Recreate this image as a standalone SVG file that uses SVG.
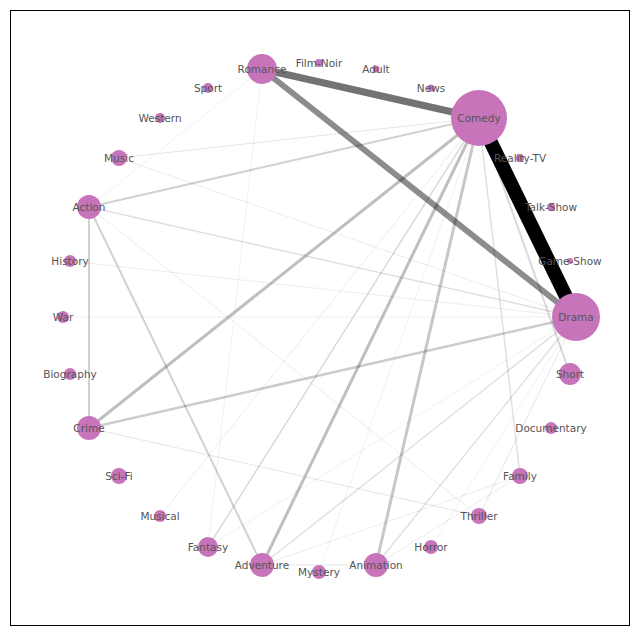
<svg xmlns="http://www.w3.org/2000/svg" width="640" height="636" viewBox="0 0 640 636">
<style>
.n{fill:#c774ba}
.t{font-family:"DejaVu Sans",sans-serif;font-size:10.5px;fill:#555;text-anchor:middle;dominant-baseline:central}
.e{stroke:#000;fill:none;stroke-linecap:butt}
</style>
<rect width="640" height="636" fill="#fff"/>
<rect x="10.5" y="10.5" width="619" height="615" fill="none" stroke="#000"/>
<g id="edges">
<line class="e" x1="479" y1="118" x2="576" y2="317" stroke-width="14"/>
<line class="e" x1="262" y1="69" x2="479" y2="118" stroke-width="7" stroke-opacity="0.55"/>
<line class="e" x1="262" y1="69" x2="576" y2="317" stroke-width="6" stroke-opacity="0.45"/>
<line class="e" x1="479" y1="118" x2="89" y2="428" stroke-width="3" stroke-opacity="0.25"/>
<line class="e" x1="479" y1="118" x2="262" y2="565" stroke-width="3" stroke-opacity="0.25"/>
<line class="e" x1="479" y1="118" x2="376" y2="565" stroke-width="3" stroke-opacity="0.22"/>
<line class="e" x1="576" y1="317" x2="89" y2="428" stroke-width="2.5" stroke-opacity="0.2"/>
<line class="e" x1="479" y1="118" x2="89" y2="207" stroke-width="2" stroke-opacity="0.18"/>
<line class="e" x1="89" y1="207" x2="89" y2="428" stroke-width="2" stroke-opacity="0.18"/>
<line class="e" x1="89" y1="207" x2="262" y2="565" stroke-width="2" stroke-opacity="0.18"/>
<line class="e" x1="479" y1="118" x2="570" y2="374" stroke-width="2" stroke-opacity="0.15"/>
<line class="e" x1="479" y1="118" x2="520" y2="476" stroke-width="1.5" stroke-opacity="0.12"/>
<line class="e" x1="479" y1="118" x2="208" y2="547" stroke-width="1.5" stroke-opacity="0.15"/>
<line class="e" x1="576" y1="317" x2="262" y2="565" stroke-width="1.5" stroke-opacity="0.12"/>
<line class="e" x1="576" y1="317" x2="376" y2="565" stroke-width="1.5" stroke-opacity="0.12"/>
<line class="e" x1="576" y1="317" x2="89" y2="207" stroke-width="1.5" stroke-opacity="0.12"/>
<line class="e" x1="576" y1="317" x2="479" y2="516" stroke-width="1" stroke-opacity="0.1"/>
<line class="e" x1="479" y1="118" x2="119" y2="158" stroke-width="1" stroke-opacity="0.1"/>
<line class="e" x1="479" y1="118" x2="160" y2="516" stroke-width="1" stroke-opacity="0.08"/>
<line class="e" x1="576" y1="317" x2="70" y2="261" stroke-width="1" stroke-opacity="0.08"/>
<line class="e" x1="576" y1="317" x2="63" y2="317" stroke-width="1" stroke-opacity="0.06"/>
<line class="e" x1="576" y1="317" x2="119" y2="158" stroke-width="1" stroke-opacity="0.08"/>
<line class="e" x1="89" y1="428" x2="479" y2="516" stroke-width="1" stroke-opacity="0.1"/>
<line class="e" x1="89" y1="207" x2="479" y2="516" stroke-width="1" stroke-opacity="0.08"/>
<line class="e" x1="262" y1="565" x2="376" y2="565" stroke-width="1" stroke-opacity="0.1"/>
<line class="e" x1="262" y1="565" x2="520" y2="476" stroke-width="1" stroke-opacity="0.08"/>
<line class="e" x1="376" y1="565" x2="520" y2="476" stroke-width="1" stroke-opacity="0.08"/>
<line class="e" x1="262" y1="69" x2="208" y2="547" stroke-width="1" stroke-opacity="0.06"/>
<line class="e" x1="262" y1="69" x2="89" y2="207" stroke-width="1" stroke-opacity="0.06"/>
<line class="e" x1="576" y1="317" x2="208" y2="547" stroke-width="1" stroke-opacity="0.06"/>
<line class="e" x1="576" y1="317" x2="431" y2="547" stroke-width="1" stroke-opacity="0.06"/>
<line class="e" x1="479" y1="118" x2="319" y2="572" stroke-width="1" stroke-opacity="0.06"/>
</g>
<g id="n-Comedy"><circle class="n" cx="479" cy="118" r="28"/><text class="t" x="479" y="118">Comedy</text></g>
<g id="n-Drama"><circle class="n" cx="576" cy="317" r="24"/><text class="t" x="576" y="317">Drama</text></g>
<g id="n-Romance"><circle class="n" cx="262" cy="69" r="15"/><text class="t" x="262" y="69">Romance</text></g>
<g id="n-FilmNoir"><circle class="n" cx="319" cy="63" r="4"/><text class="t" x="319" y="63">Film-Noir</text></g>
<g id="n-Adult"><circle class="n" cx="376" cy="69" r="3.5"/><text class="t" x="376" y="69">Adult</text></g>
<g id="n-News"><circle class="n" cx="431" cy="88" r="3.5"/><text class="t" x="431" y="88">News</text></g>
<g id="n-RealityTV"><circle class="n" cx="520" cy="158" r="4"/><text class="t" x="520" y="158">Reality-TV</text></g>
<g id="n-TalkShow"><circle class="n" cx="551" cy="207" r="4"/><text class="t" x="551" y="207">Talk-Show</text></g>
<g id="n-GameShow"><circle class="n" cx="570" cy="261" r="3"/><text class="t" x="570" y="261">Game-Show</text></g>
<g id="n-Short"><circle class="n" cx="570" cy="374" r="11"/><text class="t" x="570" y="374">Short</text></g>
<g id="n-Documentary"><circle class="n" cx="551" cy="428" r="6"/><text class="t" x="551" y="428">Documentary</text></g>
<g id="n-Family"><circle class="n" cx="520" cy="476" r="8"/><text class="t" x="520" y="476">Family</text></g>
<g id="n-Thriller"><circle class="n" cx="479" cy="516" r="8"/><text class="t" x="479" y="516">Thriller</text></g>
<g id="n-Horror"><circle class="n" cx="431" cy="547" r="7"/><text class="t" x="431" y="547">Horror</text></g>
<g id="n-Animation"><circle class="n" cx="376" cy="565" r="12"/><text class="t" x="376" y="565">Animation</text></g>
<g id="n-Mystery"><circle class="n" cx="319" cy="572" r="7"/><text class="t" x="319" y="572">Mystery</text></g>
<g id="n-Adventure"><circle class="n" cx="262" cy="565" r="12"/><text class="t" x="262" y="565">Adventure</text></g>
<g id="n-Fantasy"><circle class="n" cx="208" cy="547" r="10"/><text class="t" x="208" y="547">Fantasy</text></g>
<g id="n-Musical"><circle class="n" cx="160" cy="516" r="6"/><text class="t" x="160" y="516">Musical</text></g>
<g id="n-SciFi"><circle class="n" cx="119" cy="476" r="8"/><text class="t" x="119" y="476">Sci-Fi</text></g>
<g id="n-Crime"><circle class="n" cx="89" cy="428" r="12"/><text class="t" x="89" y="428">Crime</text></g>
<g id="n-Biography"><circle class="n" cx="70" cy="374" r="6"/><text class="t" x="70" y="374">Biography</text></g>
<g id="n-War"><circle class="n" cx="63" cy="317" r="6"/><text class="t" x="63" y="317">War</text></g>
<g id="n-History"><circle class="n" cx="70" cy="261" r="6"/><text class="t" x="70" y="261">History</text></g>
<g id="n-Action"><circle class="n" cx="89" cy="207" r="12"/><text class="t" x="89" y="207">Action</text></g>
<g id="n-Music"><circle class="n" cx="119" cy="158" r="8"/><text class="t" x="119" y="158">Music</text></g>
<g id="n-Western"><circle class="n" cx="160" cy="118" r="5"/><text class="t" x="160" y="118">Western</text></g>
<g id="n-Sport"><circle class="n" cx="208" cy="88" r="5"/><text class="t" x="208" y="88">Sport</text></g>
</svg>
